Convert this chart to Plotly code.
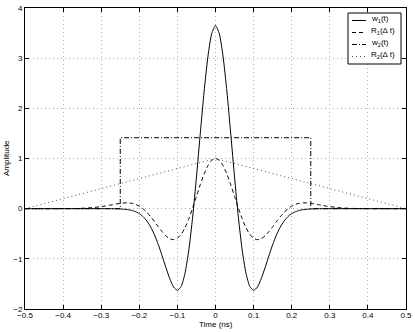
import plotly.graph_objects as go

# Time axis samples (ns)
time_ns = [-0.50, -0.45, -0.40, -0.38, -0.36, -0.34, -0.32, -0.30, -0.29, -0.28, -0.27, -0.26,
           -0.25, -0.24, -0.23, -0.22, -0.21, -0.20, -0.19, -0.18, -0.17, -0.16, -0.15, -0.14,
           -0.13, -0.12, -0.11, -0.10, -0.09, -0.08, -0.07, -0.06, -0.05, -0.04, -0.03, -0.02,
           -0.01, 0.00, 0.01, 0.02, 0.03, 0.04, 0.05, 0.06, 0.07, 0.08, 0.09, 0.10, 0.11, 0.12,
           0.13, 0.14, 0.15, 0.16, 0.17, 0.18, 0.19, 0.20, 0.21, 0.22, 0.23, 0.24, 0.25, 0.26,
           0.27, 0.28, 0.29, 0.30, 0.32, 0.34, 0.36, 0.38, 0.40, 0.45, 0.50]

w1 = [0, 0, 0, 0, 0, 0, 0, 0, 0, 0, -0.001, -0.003,
      -0.006, -0.011, -0.019, -0.035, -0.060, -0.099, -0.160, -0.247, -0.367, -0.524, -0.718, -0.942,
      -1.178, -1.397, -1.563, -1.629, -1.549, -1.286, -0.823, -0.170, 0.627, 1.493, 2.328, 3.025,
      3.488, 3.65, 3.488, 3.025, 2.328, 1.493, 0.627, -0.170, -0.823, -1.286, -1.549, -1.629, -1.563, -1.397,
      -1.178, -0.942, -0.718, -0.524, -0.367, -0.247, -0.160, -0.099, -0.060, -0.035, -0.019, -0.011, -0.006, -0.003,
      -0.001, 0, 0, 0, 0, 0, 0, 0, 0, 0, 0]

R1 = [0, 0, 0.001, 0.002, 0.005, 0.011, 0.023, 0.041, 0.052, 0.066, 0.079, 0.094,
      0.106, 0.114, 0.116, 0.107, 0.086, 0.050, -0.004, -0.075, -0.161, -0.259, -0.361, -0.460,
      -0.543, -0.599, -0.618, -0.590, -0.511, -0.379, -0.201, 0.013, 0.246, 0.478, 0.688, 0.855,
      0.963, 1.000, 0.963, 0.855, 0.688, 0.478, 0.246, 0.013, -0.201, -0.379, -0.511, -0.590, -0.618, -0.599,
      -0.543, -0.460, -0.361, -0.259, -0.161, -0.075, -0.004, 0.050, 0.086, 0.107, 0.116, 0.114, 0.106, 0.094,
      0.079, 0.066, 0.052, 0.041, 0.023, 0.011, 0.005, 0.002, 0.001, 0, 0]

w2_time = [-0.5, -0.25, -0.25, 0.25, 0.25, 0.5]
w2 = [0, 0, 1.414, 1.414, 0, 0]

R2_time = [-0.5, 0.0, 0.5]
R2 = [0, 1, 0]

x_ticks = [-0.5, -0.4, -0.3, -0.2, -0.1, 0, 0.1, 0.2, 0.3, 0.4, 0.5]
x_labels = ["\u22120.5", "\u22120.4", "\u22120.3", "\u22120.2", "\u22120.1", "0", "0.1", "0.2", "0.3", "0.4", "0.5"]
y_ticks = [-2, -1, 0, 1, 2, 3, 4]
y_labels = ["\u22122", "\u22121", "0", "1", "2", "3", "4"]

legend_names = ["w<sub>1</sub>(t)", "R<sub>1</sub>(\u0394 t)", "w<sub>2</sub>(t)", "R<sub>2</sub>(\u0394 t)"]
x_title = "Time (ns)"
y_title = "Amplitude"

FONT = "Liberation Sans, Arial, Helvetica, sans-serif"
W, H = 415, 332
ML, MR, MT, MB = 25, 9, 8, 23
PW, PH = W - ML - MR, H - MT - MB


def px(X):
    return (X - ML) / PW


def py(Y):
    return 1 - (Y - MT) / PH


styles = [
    dict(color="black", width=1),
    dict(color="black", width=1, dash="4px,3px"),
    dict(color="black", width=1, dash="5px,2px,1px,2px"),
    dict(color="#555555", width=1, dash="1px,3px"),
]

fig = go.Figure()
fig.add_trace(go.Scatter(x=time_ns, y=w1, mode="lines", name=legend_names[0], showlegend=False,
                         line=dict(**styles[0], shape="spline", smoothing=0.6)))
fig.add_trace(go.Scatter(x=time_ns, y=R1, mode="lines", name=legend_names[1], showlegend=False,
                         line=dict(**styles[1], shape="spline", smoothing=0.6)))
fig.add_trace(go.Scatter(x=w2_time, y=w2, mode="lines", name=legend_names[2], showlegend=False,
                         line=styles[2]))
fig.add_trace(go.Scatter(x=R2_time, y=R2, mode="lines", name=legend_names[3], showlegend=False,
                         line=styles[3]))

axis_common = dict(
    showline=True, linecolor="black", linewidth=1, mirror="ticks",
    ticks="inside", ticklen=4, tickcolor="black", tickwidth=1,
    showgrid=True, gridcolor="#b0b0b0", griddash="1px,3px", gridwidth=1,
    zeroline=False, tickfont=dict(family=FONT, size=8, color="black"),
    automargin=False,
)

fig.update_xaxes(range=[-0.5, 0.5], tickvals=x_ticks, ticktext=x_labels, ticklabelstandoff=-2,
                 **axis_common)
fig.update_yaxes(range=[-2, 4], tickvals=y_ticks, ticktext=y_labels, **axis_common)

annotations = [
    dict(text=x_title, x=px(215.5), y=py(325), xref="paper", yref="paper",
         xanchor="center", yanchor="middle", showarrow=False,
         font=dict(family=FONT, size=8, color="black")),
    dict(text=y_title, x=px(7), y=py(158), xref="paper", yref="paper", textangle=-90,
         xanchor="center", yanchor="middle", showarrow=False,
         font=dict(family=FONT, size=8, color="black")),
]

# Manual legend (box, line samples, labels)
shapes = [dict(type="rect", xref="paper", yref="paper", x0=px(348), x1=px(401), y0=py(64), y1=py(13),
               line=dict(color="black", width=1), fillcolor="white", layer="above")]
row_y = [20.5, 32.5, 44.5, 56.5]
for i, name in enumerate(legend_names):
    shapes.append(dict(type="line", xref="paper", yref="paper", x0=px(352), x1=px(366),
                       y0=py(row_y[i]), y1=py(row_y[i]), line=styles[i], layer="above"))
    annotations.append(dict(text=name, x=px(369), y=py(row_y[i] - 1.5), xref="paper", yref="paper",
                            xanchor="left", yanchor="middle", showarrow=False,
                            font=dict(family=FONT, size=8, color="black")))

fig.update_layout(
    width=W, height=H,
    margin=dict(l=ML, r=MR, t=MT, b=MB),
    paper_bgcolor="white", plot_bgcolor="white",
    font=dict(family=FONT, size=8, color="black"),
    showlegend=False,
    shapes=shapes,
    annotations=annotations,
)

fig.write_html("out.html", config={"displayModeBar": False},
               post_script="document.body.style.margin='0px';")
